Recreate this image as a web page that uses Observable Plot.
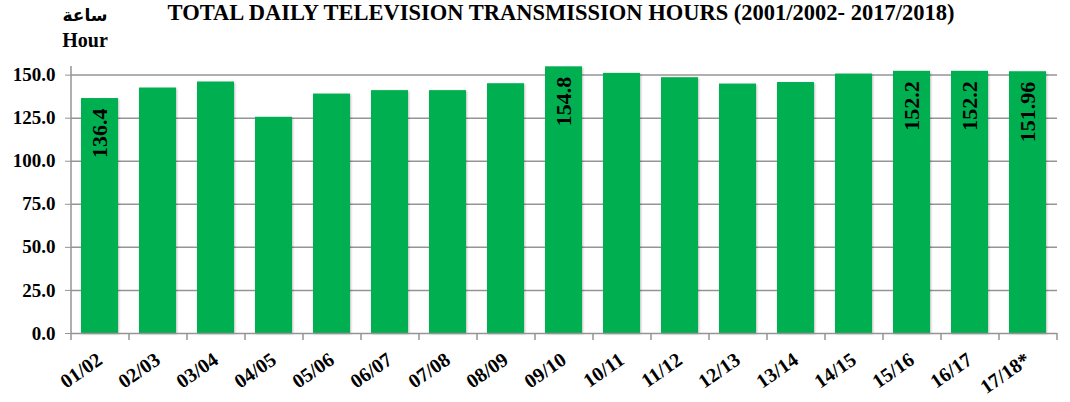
<!DOCTYPE html>
<html><head><meta charset="utf-8">
<script src="https://cdn.jsdelivr.net/npm/d3@7"></script>
<script src="https://cdn.jsdelivr.net/npm/@observablehq/plot@0.6"></script>
<style>
body{margin:0;background:#fff;}
#wrap{position:relative;width:1070px;height:402px;font-family:"Liberation Serif",serif;color:#000;}
#title{position:absolute;left:561px;top:0px;transform:translateX(-50%);white-space:nowrap;font-weight:bold;font-size:22.5px;line-height:26px;}
#unit{position:absolute;left:85px;top:3px;transform:translateX(-50%);text-align:center;font-weight:bold;font-size:20px;line-height:25px;}
#unit .ar{font-size:17px;font-family:"DejaVu Sans","Noto Sans",sans-serif;}
#chart{position:absolute;left:0;top:0;}
</style></head>
<body>
<div id="wrap">
  <div id="chart"></div>
  <div id="title">TOTAL DAILY TELEVISION TRANSMISSION HOURS (2001/2002- 2017/2018)</div>
  <div id="unit"><div class="ar" dir="rtl">ساعة</div><div>Hour</div></div>
</div>
<script>
const periods = ["01/02","02/03","03/04","04/05","05/06","06/07","07/08","08/09","09/10","10/11","11/12","12/13","13/14","14/15","15/16","16/17","17/18*"];
const hours = [136.4,142.5,146,125.5,139,141,141,145,154.8,151,148.5,144.8,145.7,150.6,152.2,152.2,151.96];
const barLabels = ["136.4",null,null,null,null,null,null,null,"154.8",null,null,null,null,null,"152.2","152.2","151.96"];
const yTicks = [0,25,50,75,100,125,150];

const data = periods.map((p,i)=>({period:p, hours:hours[i], label:barLabels[i]}));
const labelled = data.filter(d=>d.label);
const gray = "#959595";

const plot = Plot.plot({
  width:1070, height:402,
  marginTop:66, marginBottom:69, marginLeft:71, marginRight:13,
  style:{fontFamily:"Liberation Serif, serif", fontWeight:"bold", fontSize:"19px", color:"#000", background:"transparent"},
  x:{domain:periods, paddingInner:0.36, paddingOuter:0.18, label:null},
  y:{domain:[0,155], label:null},
  marks:[
    Plot.ruleY(yTicks.filter(d=>d>0), {stroke:gray, strokeWidth:1.5}),
    Plot.barY(data, {x:"period", y:"hours", fill:"#00B050"}),
    Plot.ruleY([0], {stroke:gray, strokeWidth:1.5}),
    Plot.ruleX([periods[0]], {dx:-29, y1:0, y2:155, stroke:gray, strokeWidth:1.5}),
    Plot.ruleX(periods, {dx:-29, y1:0, y2:-4, stroke:gray, strokeWidth:1.5}),
    Plot.ruleX([periods[periods.length-1]], {dx:29, y1:0, y2:-4, stroke:gray, strokeWidth:1.5}),
    Plot.axisY({ticks:yTicks, tickSize:6, tickPadding:10, tickFormat:d=>d.toFixed(1), stroke:gray, fontSize:19, fontWeight:"bold"}),
    Plot.axisX({tickSize:0, tickRotate:-35, tickPadding:24, fontSize:20, fontWeight:"bold"}),
    Plot.text(labelled, {x:"period", y:"hours", text:"label", rotate:-90, textAnchor:"end", lineAnchor:"middle", dy:10, fontSize:22, fontWeight:"bold", fill:"#000"})
  ]
});
const barG = plot.querySelector('g[aria-label="bar"]');
if (barG) barG.style.filter = "drop-shadow(1.5px 1.5px 1px rgba(0,0,0,0.25))";
document.getElementById("chart").appendChild(plot);
</script>
</body></html>
